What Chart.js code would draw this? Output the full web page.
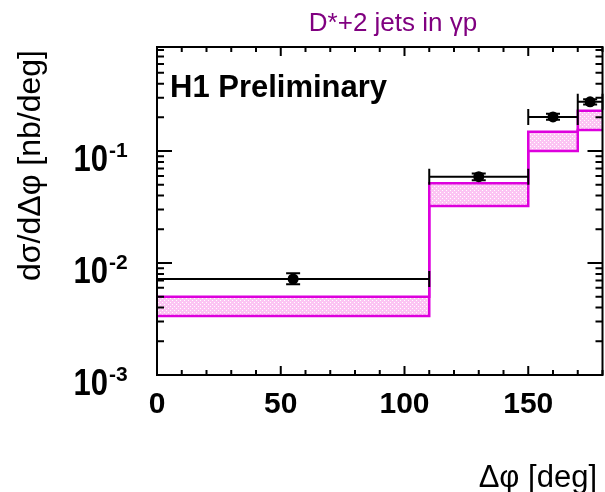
<!DOCTYPE html>
<html>
<head>
<meta charset="utf-8">
<script src="https://cdn.jsdelivr.net/npm/chart.js@4/dist/chart.umd.min.js"></script>
<style>
  html, body { margin: 0; padding: 0; background: #fff; overflow: hidden; }
  #wrap { width: 608px; height: 492px; }
</style>
</head>
<body>
<div id="wrap"><canvas id="dphi-chart" width="608" height="492"></canvas></div>
<script>
// D* + 2 jets in photoproduction: dsigma/dDeltaphi, H1 data vs NLO band
const binLow = [0, 110, 150, 170];
const binHigh = [110, 150, 170, 180];
const binCenter = [55, 130, 160, 175];
const dataValues = [0.0072, 0.059, 0.202, 0.275];
const dataErrLow = [0.00645, 0.055, 0.19, 0.26];
const dataErrHigh = [0.0081, 0.063, 0.215, 0.29];
const theoryUpper = [0.0050, 0.0515, 0.149, 0.229];
const theoryLower = [0.00336, 0.0323, 0.100, 0.154];

const xMajorTicks = [0, 50, 100, 150];
const xTickLabels = ['0', '50', '100', '150'];
const yMajorTicks = [0.001, 0.01, 0.1];
const yTickExponents = ['-3', '-2', '-1'];

const MAGENTA = '#dd00dd';
const FONT = '"Liberation Sans", Arial, sans-serif';

// histogram edges -> points for a stepped line
function stepPoints(values) {
    const pts = binLow.map((x, i) => ({ x: x, y: values[i] }));
    pts.push({ x: binHigh[binHigh.length - 1], y: values[values.length - 1] });
    return pts;
}

// pink fill with white dots, like the ROOT pattern
function makeHatch() {
    const c = document.createElement('canvas');
    c.width = 4; c.height = 4;
    const g = c.getContext('2d');
    g.fillStyle = '#fcc4f3';
    g.fillRect(0, 0, 4, 4);
    g.fillStyle = '#ffffff';
    g.fillRect(0, 0, 1, 1);
    g.fillRect(2, 2, 1, 1);
    return g.createPattern(c, 'repeat');
}

const errorBars = {
    id: 'errorBars',
    afterDatasetsDraw(chart) {
        const { ctx, scales: { x, y } } = chart;
        ctx.save();
        ctx.strokeStyle = '#000';
        ctx.lineWidth = 2;
        ctx.beginPath();
        binCenter.forEach((c, i) => {
            const py = y.getPixelForValue(dataValues[i]);
            const x0 = x.getPixelForValue(binLow[i]);
            const x1 = x.getPixelForValue(binHigh[i]);
            ctx.moveTo(x0, py); ctx.lineTo(x1, py);
            ctx.moveTo(x0, py - 8); ctx.lineTo(x0, py + 8);
            ctx.moveTo(x1, py - 8); ctx.lineTo(x1, py + 8);
            const px = x.getPixelForValue(c);
            const yLo = y.getPixelForValue(dataErrLow[i]);
            const yHi = y.getPixelForValue(dataErrHigh[i]);
            ctx.moveTo(px, yLo); ctx.lineTo(px, yHi);
            ctx.moveTo(px - 7, yLo); ctx.lineTo(px + 7, yLo);
            ctx.moveTo(px - 7, yHi); ctx.lineTo(px + 7, yHi);
        });
        ctx.stroke();
        ctx.restore();
    }
};

// ROOT style frame: box, inward ticks on all sides, labels and titles
const rootFrame = {
    id: 'rootFrame',
    afterDraw(chart) {
        const { ctx, chartArea: a, scales: { x, y } } = chart;
        ctx.save();
        ctx.strokeStyle = '#000';
        ctx.lineWidth = 2;
        ctx.strokeRect(a.left, a.top, a.right - a.left, a.bottom - a.top);

        ctx.beginPath();
        for (let v = x.min; v <= x.max; v += 10) {
            const px = x.getPixelForValue(v);
            const len = v % 50 === 0 ? 9 : 5;
            ctx.moveTo(px, a.bottom); ctx.lineTo(px, a.bottom - len);
            ctx.moveTo(px, a.top); ctx.lineTo(px, a.top + len);
        }
        yMajorTicks.forEach(decade => {
            for (let m = 1; m <= 9; m++) {
                const v = m * decade;
                if (v > y.max) break;
                const py = y.getPixelForValue(v);
                const len = m === 1 ? 15 : 7;
                ctx.moveTo(a.left, py); ctx.lineTo(a.left + len, py);
                ctx.moveTo(a.right, py); ctx.lineTo(a.right - len, py);
            }
        });
        ctx.stroke();

        ctx.fillStyle = '#000';
        ctx.font = 'bold 30px ' + FONT;
        ctx.textAlign = 'center';
        ctx.textBaseline = 'alphabetic';
        xMajorTicks.forEach((v, i) => {
            ctx.fillText(xTickLabels[i], x.getPixelForValue(v), a.bottom + 38);
        });

        yMajorTicks.forEach((v, i) => {
            const py = y.getPixelForValue(v);
            ctx.save();
            ctx.translate(108, py + 20);
            ctx.scale(1, 1.17);
            ctx.font = 'bold 31px ' + FONT;
            ctx.textAlign = 'right';
            ctx.fillText('10', 0, 0);
            ctx.restore();
            ctx.font = 'bold 21px ' + FONT;
            ctx.textAlign = 'left';
            ctx.fillText(yTickExponents[i], 109, py + 6);
        });

        ctx.font = 'bold 31px ' + FONT;
        ctx.textAlign = 'left';
        ctx.fillText('H1 Preliminary', 170, 97);

        ctx.fillStyle = '#800080';
        ctx.font = '26px ' + FONT;
        ctx.textAlign = 'center';
        ctx.fillText('D*+2 jets in γp', 393, 31);

        ctx.fillStyle = '#000';
        ctx.font = '31px ' + FONT;
        ctx.textAlign = 'right';
        ctx.fillText('Δφ [deg]', 597, 487);

        ctx.save();
        ctx.translate(40, 165.5);
        ctx.rotate(-Math.PI / 2);
        ctx.font = '32px ' + FONT;
        ctx.textAlign = 'center';
        ctx.fillText('dσ/dΔφ [nb/deg]', 0, 0);
        ctx.restore();

        ctx.restore();
    }
};

const ctx = document.getElementById('dphi-chart');
new Chart(ctx, {
    type: 'line',
    data: {
        datasets: [{
            label: 'H1 data',
            data: binCenter.map((c, i) => ({ x: c, y: dataValues[i] })),
            showLine: false,
            pointRadius: 5.5,
            pointBackgroundColor: '#000',
            pointBorderColor: '#000',
            pointBorderWidth: 0
        }, {
            label: 'NLO upper',
            data: stepPoints(theoryUpper),
            stepped: true,
            borderColor: MAGENTA,
            borderWidth: 2.5,
            pointRadius: 0,
            fill: false
        }, {
            label: 'NLO lower',
            data: stepPoints(theoryLower),
            stepped: true,
            borderColor: MAGENTA,
            borderWidth: 2.5,
            pointRadius: 0,
            backgroundColor: makeHatch(),
            fill: '-1'
        }]
    },
    options: {
        responsive: false,
        animation: false,
        events: [],
        layout: { padding: { left: 157, right: 1, top: 47, bottom: 117 } },
        scales: {
            x: { type: 'linear', min: 0, max: 180, display: false },
            y: { type: 'logarithmic', min: 0.001, max: 0.85, display: false }
        },
        plugins: {
            legend: { display: false },
            tooltip: { enabled: false },
            title: { display: false }
        }
    },
    plugins: [errorBars, rootFrame]
});
</script>
</body>
</html>
